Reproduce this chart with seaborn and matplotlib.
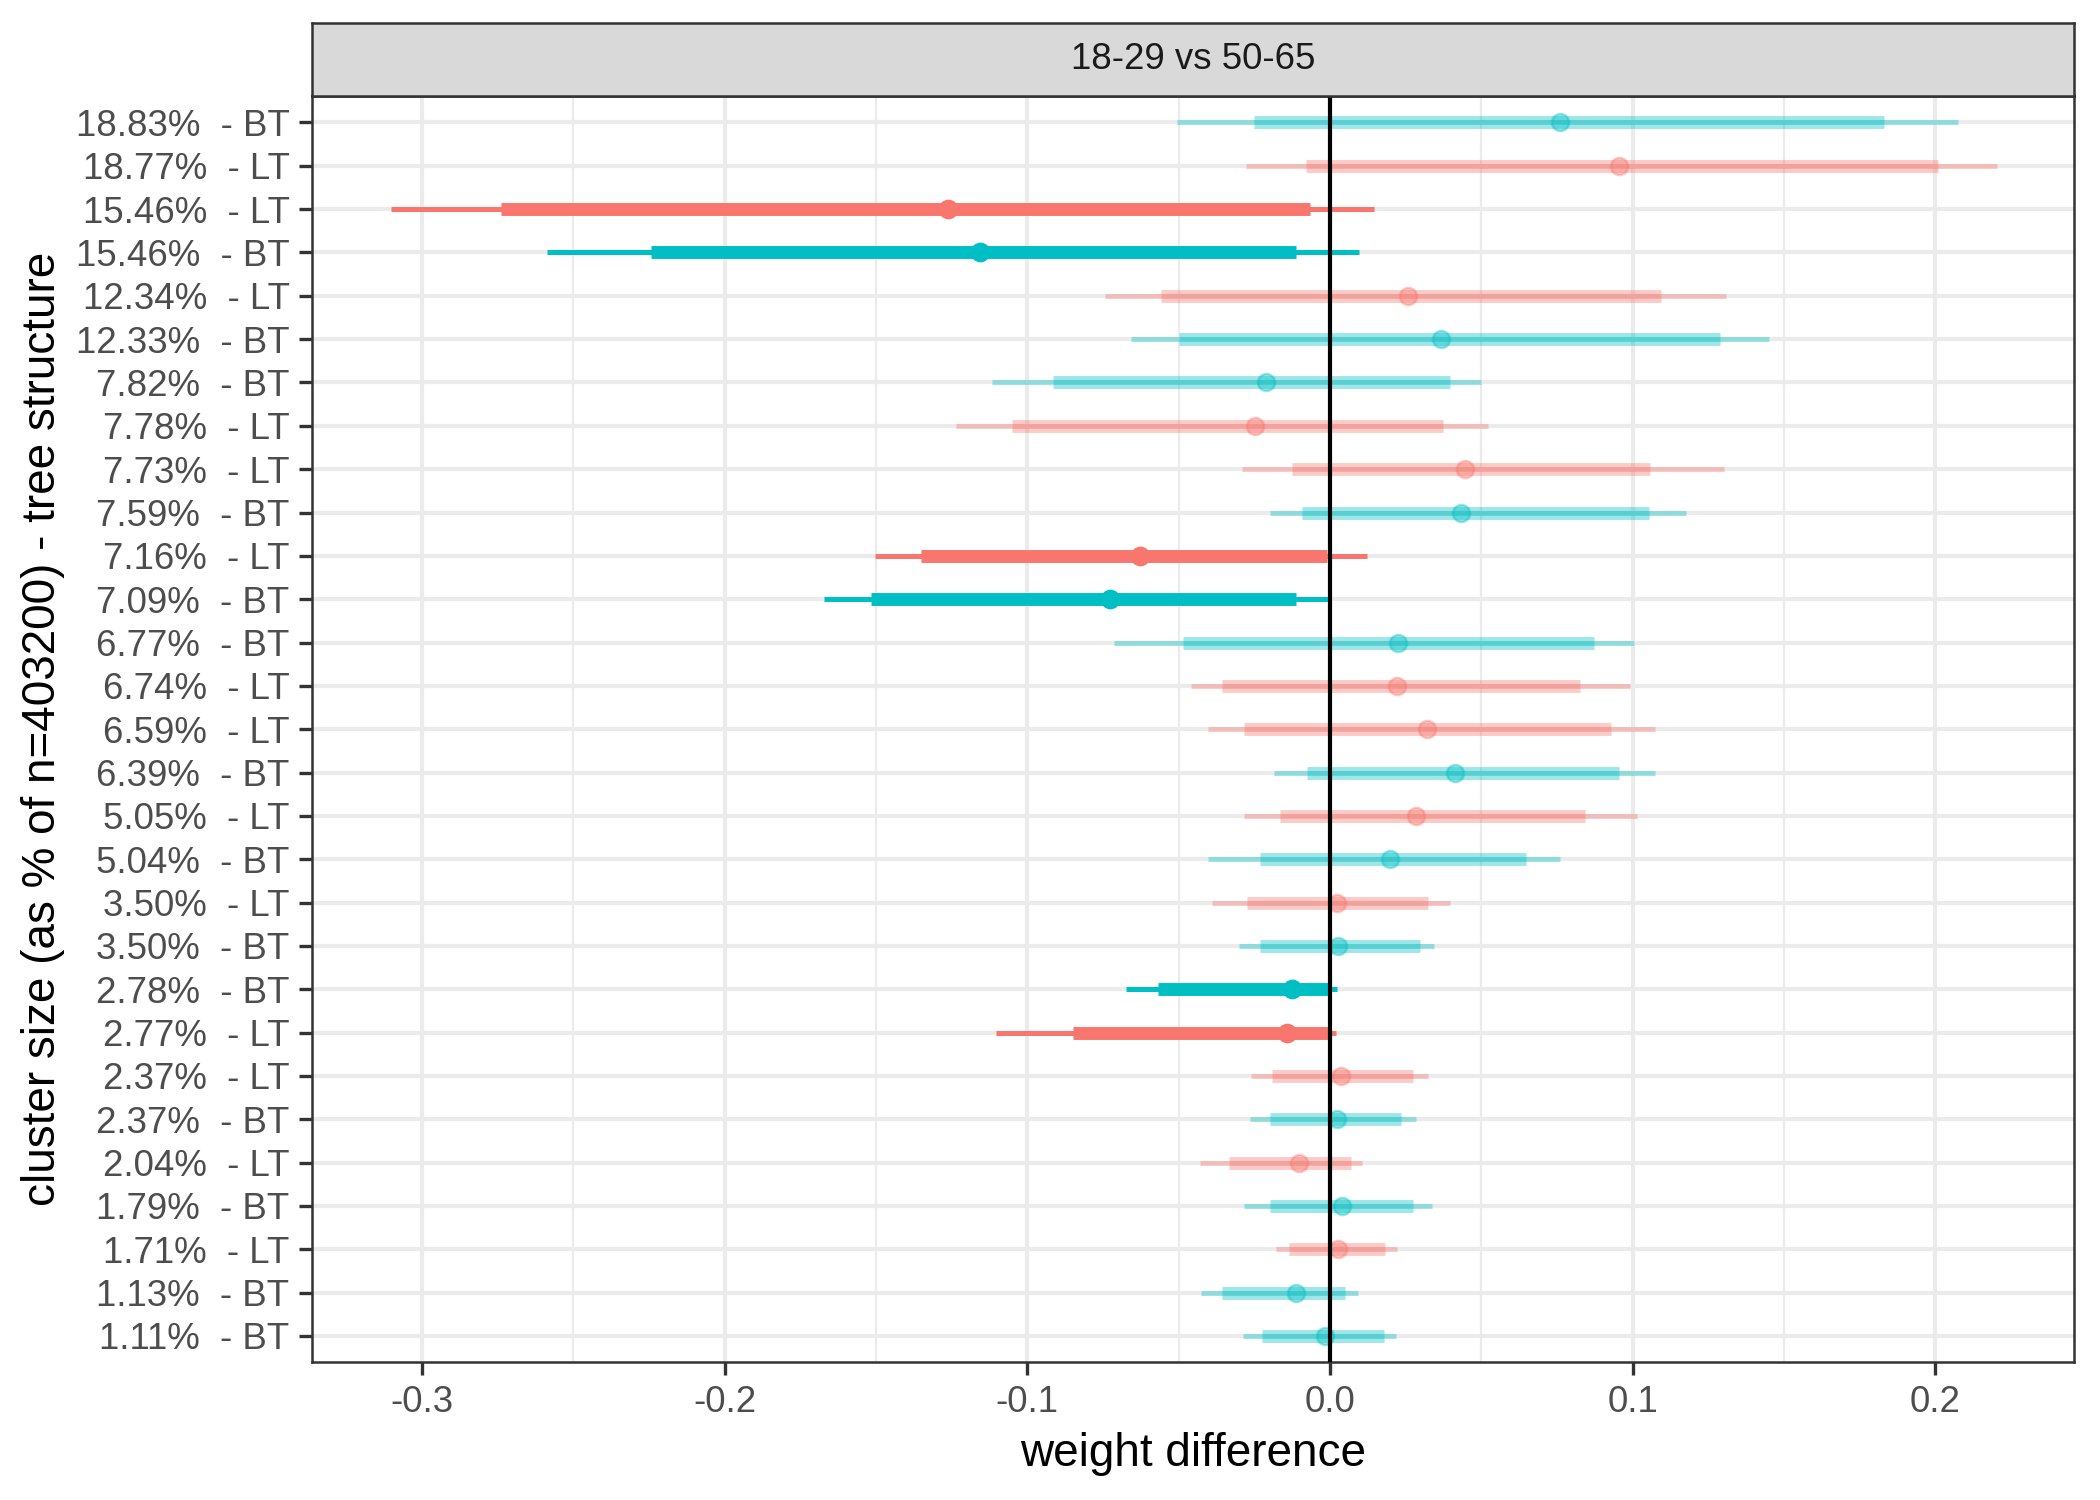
import numpy as np
import pandas as pd
import matplotlib
matplotlib.use("Agg")
import matplotlib.pyplot as plt
import seaborn as sns

# cluster labels, top to bottom
cluster_labels = [
    "18.83%  - BT", "18.77%  - LT", "15.46%  - LT", "15.46%  - BT", "12.34%  - LT",
    "12.33%  - BT", "7.82%  - BT", "7.78%  - LT", "7.73%  - LT", "7.59%  - BT",
    "7.16%  - LT", "7.09%  - BT", "6.77%  - BT", "6.74%  - LT", "6.59%  - LT",
    "6.39%  - BT", "5.05%  - LT", "5.04%  - BT", "3.50%  - LT", "3.50%  - BT",
    "2.78%  - BT", "2.77%  - LT", "2.37%  - LT", "2.37%  - BT", "2.04%  - LT",
    "1.79%  - BT", "1.71%  - LT", "1.13%  - BT", "1.11%  - BT",
]
tree_type = [
    "BT", "LT", "LT", "BT", "LT", "BT", "BT", "LT", "LT", "BT",
    "LT", "BT", "BT", "LT", "LT", "BT", "LT", "BT", "LT", "BT",
    "BT", "LT", "LT", "BT", "LT", "BT", "LT", "BT", "BT",
]
estimate = [
    0.0761, 0.0956, -0.1261, -0.1155, 0.0257, 0.0367, -0.0212, -0.0248, 0.0447, 0.0434,
    -0.0628, -0.0727, 0.0226, 0.0221, 0.0319, 0.0412, 0.0283, 0.0199, 0.0022, 0.0027,
    -0.0127, -0.0143, 0.0035, 0.0022, -0.0102, 0.0040, 0.0027, -0.0111, -0.0018,
]
lower_66 = [
    -0.0252, -0.0080, -0.2739, -0.2243, -0.0558, -0.0500, -0.0916, -0.1049, -0.0124, -0.0093,
    -0.1350, -0.1518, -0.0487, -0.0358, -0.0283, -0.0075, -0.0164, -0.0230, -0.0274, -0.0230,
    -0.0567, -0.0850, -0.0190, -0.0199, -0.0332, -0.0199, -0.0137, -0.0358, -0.0226,
]
upper_66 = [
    0.1832, 0.2009, -0.0066, -0.0111, 0.1093, 0.1288, 0.0398, 0.0372, 0.1058, 0.1053,
    -0.0009, -0.0112, 0.0872, 0.0827, 0.0929, 0.0956, 0.0841, 0.0646, 0.0323, 0.0296,
    -0.0003, -0.0002, 0.0274, 0.0235, 0.0071, 0.0274, 0.0181, 0.0049, 0.0177,
]
lower_95 = [
    -0.0504, -0.0279, -0.3102, -0.2588, -0.0743, -0.0659, -0.1115, -0.1235, -0.0292, -0.0199,
    -0.1504, -0.1673, -0.0712, -0.0460, -0.0403, -0.0186, -0.0283, -0.0403, -0.0389, -0.0301,
    -0.0674, -0.1102, -0.0261, -0.0265, -0.0429, -0.0283, -0.0177, -0.0425, -0.0288,
]
upper_95 = [
    0.2075, 0.2204, 0.0146, 0.0097, 0.1310, 0.1451, 0.0500, 0.0522, 0.1301, 0.1177,
    0.0123, -0.0007, 0.1004, 0.0991, 0.1075, 0.1075, 0.1013, 0.0761, 0.0398, 0.0345,
    0.0024, 0.0019, 0.0323, 0.0283, 0.0106, 0.0336, 0.0221, 0.0093, 0.0217,
]

facet_title = "18-29 vs 50-65"
x_ticks = [-0.3, -0.2, -0.1, 0.0, 0.1, 0.2]
x_minor = [-0.25, -0.15, -0.05, 0.05, 0.15]

palette = {"LT": "#F8766D", "BT": "#00BFC4"}

df = pd.DataFrame({
    "label": cluster_labels,
    "tree": tree_type,
    "estimate": estimate,
    "lower_66": lower_66,
    "upper_66": upper_66,
    "lower_95": lower_95,
    "upper_95": upper_95,
})
df["row"] = np.arange(len(df))
df["significant"] = (df["upper_66"] < 0) | (df["lower_66"] > 0)

sns.set_theme(style="white")
plt.rcParams["font.family"] = ["Liberation Sans", "DejaVu Sans"]
plt.rcParams["axes.unicode_minus"] = False

fig = plt.figure(figsize=(7, 5), dpi=300)
ax = fig.add_axes([0.1486, 0.092, 0.8390, 0.8437])
strip = fig.add_axes([0.1486, 0.9357, 0.8390, 0.0488])

# grid
ax.set_axisbelow(True)
ax.set_xticks(x_ticks)
ax.set_xticks(x_minor, minor=True)
ax.set_yticks(df["row"])
ax.grid(which="major", color="#EBEBEB", lw=1.0)
ax.grid(which="minor", axis="x", color="#EBEBEB", lw=0.55)

for (tree, sig), sub in df.groupby(["tree", "significant"]):
    col = palette[tree]
    a = 1.0 if sig else 0.38
    ax.hlines(sub["row"], sub["lower_95"], sub["upper_95"], color=col,
              lw=1.2, alpha=a, capstyle="butt", zorder=3)
    ax.hlines(sub["row"], sub["lower_66"], sub["upper_66"], color=col,
              lw=3.1, alpha=a, capstyle="butt", zorder=3)
    sns.scatterplot(data=sub, x="estimate", y="row", color=col, s=17,
                    alpha=a, edgecolor=col, linewidth=0.6, legend=False,
                    ax=ax, zorder=4)

ax.axvline(0, color="black", lw=1.0, zorder=5)

ax.set_xlim(-0.3363, 0.2458)
ax.set_ylim(len(df) - 0.4, -0.6)
ax.set_yticklabels(df["label"])
ax.set_xticklabels([f"{t:.1f}" for t in x_ticks])

ax.tick_params(axis="both", which="major", length=3.2, width=0.8, color="#333333",
               labelsize=8.8, labelcolor="#4D4D4D", pad=2.2, bottom=True, left=True)
ax.tick_params(axis="both", which="minor", length=0)
for sp in ax.spines.values():
    sp.set_color("#333333")
    sp.set_linewidth(0.6)

ax.set_xlabel("weight difference", fontsize=11, color="black", labelpad=3)
ax.set_ylabel("cluster size (as % of n=403200) - tree structure", fontsize=11,
              color="black", labelpad=2.5)

# facet strip
strip.set_facecolor("#D9D9D9")
strip.set_xticks([])
strip.set_yticks([])
for sp in strip.spines.values():
    sp.set_color("#333333")
    sp.set_linewidth(0.6)
strip.text(0.5, 0.5, facet_title, ha="center", va="center", fontsize=8.8,
           color="#1A1A1A", transform=strip.transAxes)

fig.savefig("out.png", dpi=300)
